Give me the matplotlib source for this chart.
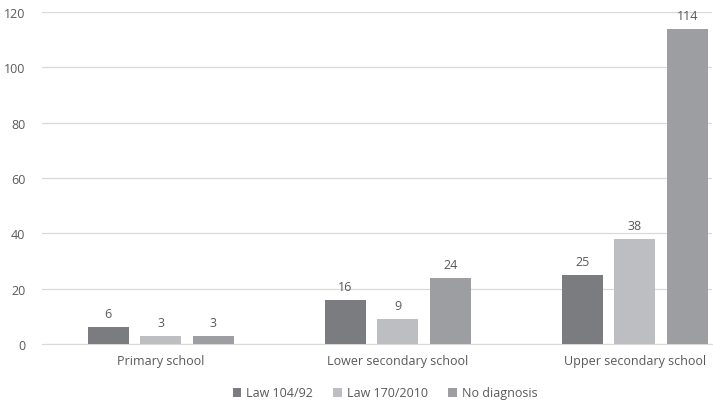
import numpy as np
import matplotlib
matplotlib.use("Agg")
import matplotlib.pyplot as plt

categories = ["Primary school", "Lower secondary school", "Upper secondary school"]
series_names = ["Law 104/92", "Law 170/2010", "No diagnosis"]
law_104 = [6, 16, 25]
law_170 = [3, 9, 38]
no_diag = [3, 24, 114]
y_ticks = [0, 20, 40, 60, 80, 100, 120]

colors = ["#7b7c80", "#bdbec1", "#9d9ea2"]
text_col = "#595959"

plt.rcParams["font.family"] = ["Open Sans", "DejaVu Sans"]

fig = plt.figure(figsize=(7.13, 4.06), dpi=100)
ax = fig.add_axes([42 / 713, 1 - 345 / 406, (712 - 42) / 713, (345 - 13) / 406])

x = np.arange(len(categories))
width = 0.173
step = 0.2215
for i, (vals, name, c) in enumerate(zip([law_104, law_170, no_diag], series_names, colors)):
    pos = x + (i - 1) * step
    bars = ax.bar(pos, vals, width=width, color=c, label=name, zorder=3)
    for xb, v in zip(pos, vals):
        ax.text(xb, v + 2.5, f"{v}", ha="center", va="bottom", fontsize=9, color=text_col)

ax.set_xlim(-0.5, 2.325)
ax.set_ylim(0, 120)
ax.set_yticks(y_ticks)
ax.set_xticks(x)
ax.set_xticklabels(categories)
ax.tick_params(axis="both", length=0, labelsize=9, colors=text_col)
ax.tick_params(axis="y", pad=12)
ax.tick_params(axis="x", pad=7)
ax.yaxis.grid(True, color="#d9d9d9", linewidth=0.9, zorder=0)
for s in ["top", "right", "left"]:
    ax.spines[s].set_visible(False)
ax.spines["bottom"].set_color("#d9d9d9")

fig.legend(loc="center", bbox_to_anchor=(385 / 713, 1 - 394 / 406), ncol=3, frameon=False,
           fontsize=9, labelcolor=text_col, handlelength=0.7, handleheight=0.7,
           handletextpad=0.4, columnspacing=1.6)

fig.savefig("out.png", dpi=100)
